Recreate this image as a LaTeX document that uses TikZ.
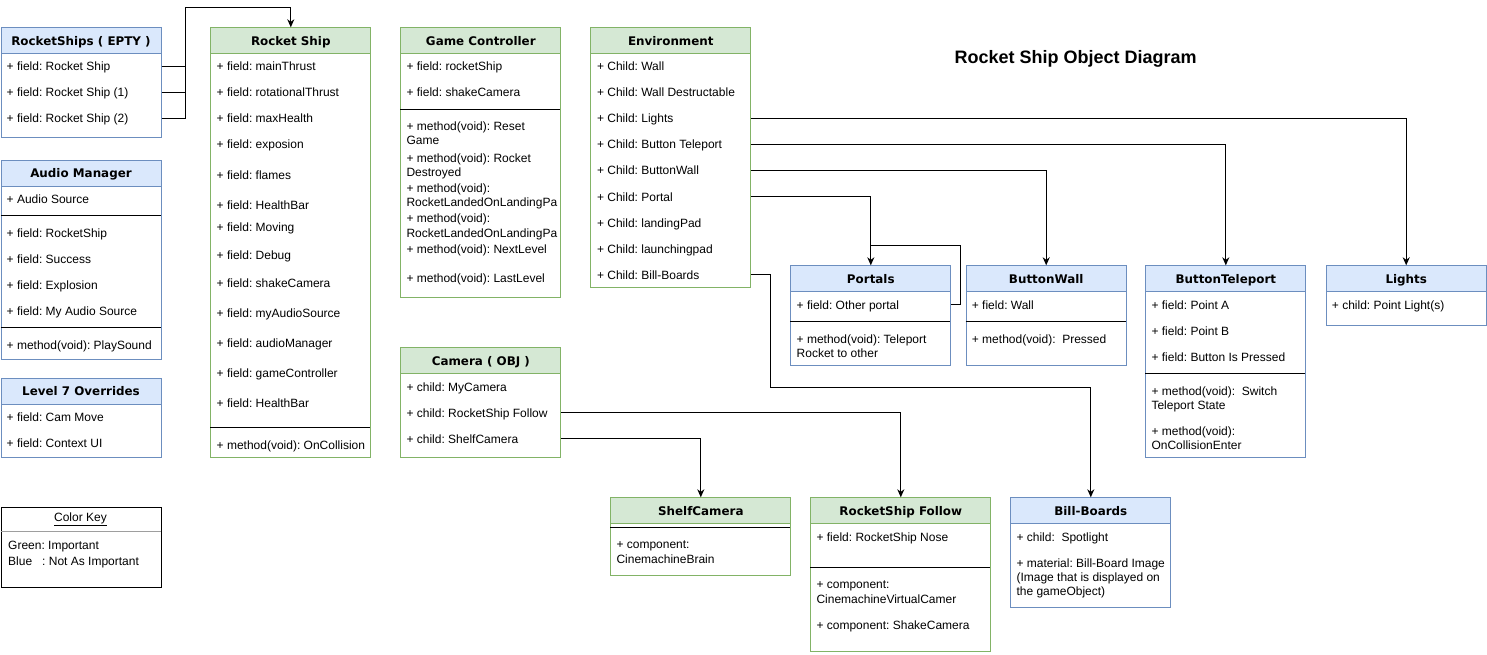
\documentclass[tikz,border=0pt]{standalone}
\usepackage{fontspec}
\setmainfont{Liberation Sans}
\newfontfamily\hfont{DejaVu Sans}
\usetikzlibrary{arrows.meta}
\frenchspacing
\definecolor{gfill}{HTML}{D5E8D4}
\definecolor{gline}{HTML}{82B366}
\definecolor{bfill}{HTML}{DAE8FC}
\definecolor{bline}{HTML}{6C8EBF}
\definecolor{keygray}{HTML}{9E9E9E}
\tikzset{
  gbody/.style={draw=gline, fill=white, anchor=north west, inner sep=0pt, line width=1pt},
  bbody/.style={draw=bline, fill=white, anchor=north west, inner sep=0pt, line width=1pt},
  kbody/.style={draw=black, fill=white, anchor=north west, inner sep=0pt, line width=1pt},
  headtext/.style={anchor=north west, inner sep=0pt, minimum height=26pt, line width=1pt,
    font=\hfont\bfseries\fontsize{11.9}{14}\selectfont, text height=8.7pt, text depth=0pt},
  ghead/.style={headtext, draw=gline, fill=gfill},
  bhead/.style={headtext, draw=bline, fill=bfill},
  row/.style={anchor=west, inner sep=0pt, font=\fontsize{12}{14}\selectfont\frenchspacing, text height=8.6pt, text depth=0pt},
  sepline/.style={draw=black, line width=1pt},
  conn/.style={draw=black, line width=1pt},
  arr/.style={conn, -{Stealth[length=8pt,width=7pt,inset=2.5pt]}},
}
\begin{document}
\begin{tikzpicture}[x=1pt,y=-1pt]
\useasboundingbox (0,0) rectangle (1487,655);
\fill[white] (0,0) rectangle (1487,655);

% ---------- RocketShips ( EPTY )
\node[bbody, minimum width=160pt, minimum height=110pt] (rse) at (0.5,27.3) {};
\node[bhead, minimum width=160pt] (rseh) at (0.5,27.3) {RocketShips ( EPTY )};
\node[row] (rse1) at (6.5,66.7) {+ field: Rocket Ship};
\node[row] (rse2) at (6.5,92.3) {+ field: Rocket Ship (1)};
\node[row] (rse3) at (6.5,118.3) {+ field: Rocket Ship (2)};

% ---------- Audio Manager
\node[bbody, minimum width=160pt, minimum height=199.6pt] (am) at (0.5,159.7) {};
\node[bhead, minimum width=160pt] (amh) at (0.5,159.7) {Audio Manager};
\node[row] (am1) at (6.5,198.7) {+ Audio Source};
\draw[sepline] (0.5,215.3) -- (160.5,215.3);
\node[row] (am2) at (6.5,232.7) {+ field: RocketShip};
\node[row] (am3) at (6.5,258.7) {+ field: Success};
\node[row] (am4) at (6.5,284.7) {+ field: Explosion};
\node[row] (am5) at (6.5,310.7) {+ field: My Audio Source};
\draw[sepline] (0.5,327.3) -- (160.5,327.3);
\node[row] (am6) at (6.5,344.7) {+ method(void): PlaySound};

% ---------- Level 7 Overrides
\node[bbody, minimum width=160pt, minimum height=79.6pt] (l7) at (0.5,377.7) {};
\node[bhead, minimum width=160pt] (l7h) at (0.5,377.7) {Level 7 Overrides};
\node[row] (l71) at (6.5,416.7) {+ field: Cam Move};
\node[row] (l72) at (6.5,442.7) {+ field: Context UI};

% ---------- Color Key
\node[kbody, minimum width=160pt, minimum height=80pt] (ck) at (0.5,507.3) {};
\node[row, anchor=center] (ckh) at (80.5,517.3) {\underline{Color Key}};
\draw[draw=keygray, line width=1pt] (0.5,531.7) -- (160.5,531.7);
\node[row] (ck1) at (8,545.3) {Green: Important};
\node[row] (ck2) at (8,560.7) {Blue\ \ \ : Not As Important};

% ---------- Rocket Ship
\node[gbody, minimum width=160pt, minimum height=430pt] (rs) at (210.3,27.3) {};
\node[ghead, minimum width=160pt] (rsh) at (210.3,27.3) {Rocket Ship};
\node[row] (rs1) at (216.5,66.7) {+ field: mainThrust};
\node[row] (rs2) at (216.5,92.7) {+ field: rotationalThrust};
\node[row] (rs3) at (216.5,118.3) {+ field: maxHealth};
\node[row] (rs4) at (216.5,144.7) {+ field: exposion};
\node[row] (rs5) at (216.5,174.7) {+ field: flames};
\node[row] (rs6) at (216.5,204.7) {+ field: HealthBar};
\node[row] (rs7) at (216.5,226.7) {+ field: Moving};
\node[row] (rs8) at (216.5,254.7) {+ field: Debug};
\node[row] (rs9) at (216.5,282.7) {+ field: shakeCamera};
\node[row] (rs10) at (216.5,312.7) {+ field: myAudioSource};
\node[row] (rs11) at (216.5,342.7) {+ field: audioManager};
\node[row] (rs12) at (216.5,372.7) {+ field: gameController};
\node[row] (rs13) at (216.5,402.7) {+ field: HealthBar};
\draw[sepline] (210.3,427.3) -- (370.3,427.3);
\node[row] (rs14) at (216.5,444.7) {+ method(void): OnCollision};

% ---------- Game Controller
\node[gbody, minimum width=160pt, minimum height=270pt] (gc) at (400.3,27.3) {};
\node[ghead, minimum width=160pt] (gch) at (400.3,27.3) {Game Controller};
\node[row] (gc1) at (406.3,66.7) {+ field: rocketShip};
\node[row] (gc2) at (406.3,92.7) {+ field: shakeCamera};
\draw[sepline] (400.3,109.3) -- (560.3,109.3);
\node[row] (gc3) at (406.3,126.7) {+ method(void): Reset};
\node[row] (gc3b) at (406.3,140.3) {Game};
\node[row] (gc4) at (406.3,158.7) {+ method(void): Rocket};
\node[row] (gc4b) at (406.3,172.7) {Destroyed};
\node[row] (gc5) at (406.3,188.7) {+ method(void):};
\node[row] (gc5b) at (406.3,202.7) {RocketLandedOnLandingPa};
\node[row] (gc6) at (406.3,218.3) {+ method(void):};
\node[row] (gc6b) at (406.3,232.7) {RocketLandedOnLandingPa};
\node[row] (gc7) at (406.3,249.3) {+ method(void): NextLevel};
\node[row] (gc8) at (406.3,278) {+ method(void): LastLevel};

% ---------- Environment
\node[gbody, minimum width=160pt, minimum height=260pt] (env) at (590.3,27.3) {};
\node[ghead, minimum width=160pt] (envh) at (590.3,27.3) {Environment};
\node[row] (env1) at (596.8,66.7) {+ Child: Wall};
\node[row] (env2) at (596.8,92.7) {+ Child: Wall Destructable};
\node[row] (env3) at (596.8,118.7) {+ Child: Lights};
\node[row] (env4) at (596.8,144.7) {+ Child: Button Teleport};
\node[row] (env5) at (596.8,170.7) {+ Child: ButtonWall};
\node[row] (env6) at (596.8,196.7) {+ Child: Portal};
\node[row] (env7) at (596.8,222.7) {+ Child: landingPad};
\node[row] (env8) at (596.8,248.7) {+ Child: launchingpad};
\node[row] (env9) at (596.8,274.7) {+ Child: Bill-Boards};

% ---------- Camera ( OBJ )
\node[gbody, minimum width=160pt, minimum height=110pt] (cam) at (400.3,347.3) {};
\node[ghead, minimum width=160pt] (camh) at (400.3,347.3) {Camera ( OBJ )};
\node[row] (cam1) at (406.3,386.7) {+ child: MyCamera};
\node[row] (cam2) at (406.3,412.7) {+ child: RocketShip Follow};
\node[row] (cam3) at (406.3,438.7) {+ child: ShelfCamera};

% ---------- Portals
\node[bbody, minimum width=160pt, minimum height=99.7pt] (po) at (790.3,265.3) {};
\node[bhead, minimum width=160pt] (poh) at (790.3,265.3) {Portals};
\node[row] (po1) at (796.5,304.7) {+ field: Other portal};
\draw[sepline] (790.3,321.3) -- (950.3,321.3);
\node[row] (po2) at (796.5,338.7) {+ method(void): Teleport};
\node[row] (po2b) at (796.5,352.7) {Rocket to other};

% ---------- ButtonWall
\node[bbody, minimum width=160pt, minimum height=99.7pt] (bw) at (965.7,265.3) {};
\node[bhead, minimum width=160pt] (bwh) at (965.7,265.3) {ButtonWall};
\node[row] (bw1) at (971.7,304.7) {+ field: Wall};
\draw[sepline] (965.7,321.3) -- (1125.7,321.3);
\node[row] (bw2) at (971.7,338.7) {+ method(void):\ \ Pressed};

% ---------- ButtonTeleport
\node[bbody, minimum width=160pt, minimum height=192pt] (bt) at (1145.3,265.3) {};
\node[bhead, minimum width=160pt] (bth) at (1145.3,265.3) {ButtonTeleport};
\node[row] (bt1) at (1151.3,304.7) {+ field: Point A};
\node[row] (bt2) at (1151.3,330.7) {+ field: Point B};
\node[row] (bt3) at (1151.3,356.7) {+ field: Button Is Pressed};
\draw[sepline] (1145.3,373.3) -- (1305.3,373.3);
\node[row] (bt4) at (1151.3,390.7) {+ method(void):\ \ Switch};
\node[row] (bt4b) at (1151.3,404.7) {Teleport State};
\node[row] (bt5) at (1151.3,430.7) {+ method(void):};
\node[row] (bt5b) at (1151.3,444.7) {OnCollisionEnter};

% ---------- Lights
\node[bbody, minimum width=160pt, minimum height=60pt] (li) at (1325.7,265.3) {};
\node[bhead, minimum width=160pt] (lih) at (1325.7,265.3) {Lights};
\node[row] (li1) at (1331.7,304.7) {+ child: Point Light(s)};

% ---------- ShelfCamera
\node[gbody, minimum width=180pt, minimum height=78pt] (sc) at (610.3,497.3) {};
\node[ghead, minimum width=180pt] (sch) at (610.3,497.3) {ShelfCamera};
\draw[sepline] (610.3,527.3) -- (790.3,527.3);
\node[row] (sc1) at (616.3,544) {+ component:};
\node[row] (sc1b) at (616.3,558.7) {CinemachineBrain};

% ---------- RocketShip Follow
\node[gbody, minimum width=180pt, minimum height=153.4pt] (rsf) at (810.3,497.3) {};
\node[ghead, minimum width=180pt] (rsfh) at (810.3,497.3) {RocketShip Follow};
\node[row] (rsf1) at (816.3,536.7) {+ field: RocketShip Nose};
\draw[sepline] (810.3,567.3) -- (990.3,567.3);
\node[row] (rsf2) at (816.3,584) {+ component:};
\node[row] (rsf2b) at (816.3,598.7) {CinemachineVirtualCamer};
\node[row] (rsf3) at (816.3,624.7) {+ component: ShakeCamera};

% ---------- Bill-Boards
\node[bbody, minimum width=160pt, minimum height=110pt] (bb) at (1010.3,497.3) {};
\node[bhead, minimum width=160pt] (bbh) at (1010.3,497.3) {Bill-Boards};
\node[row] (bb1) at (1016.3,536.7) {+ child:\ \ Spotlight};
\node[row] (bb2) at (1016.3,562.7) {+ material: Bill-Board Image};
\node[row] (bb2b) at (1016.3,576.7) {(Image that is displayed on};
\node[row] (bb2c) at (1016.3,591.3) {the gameObject)};

% ---------- Title
\node[inner sep=0pt, font=\bfseries\fontsize{18}{20}\selectfont, text height=12.9pt, text depth=0pt] (title) at (1075.7,57.3) {Rocket Ship Object Diagram};

% ---------- Connectors
\coordinate (rsj) at (185,7.3);
\draw[conn] (rse1.west -| rse.east) -- (rse1.west -| rsj);
\draw[conn] (rse2.west -| rse.east) -- (rse2.west -| rsj);
\draw[arr] (rse3.west -| rse.east) -| (rsj) -| (rs.north);

\draw[arr] (env3.west -| env.east) -| (li.north);
\draw[arr] (env4.west -| env.east) -| (bt.north);
\draw[arr] (env5.west -| env.east) -| (bw.north);
\draw[arr] (env6.west -| env.east) -| (po.north);
\coordinate (poj) at (960.3,245.3);
\draw[conn] (po1.west -| po.east) -| (poj) -- (poj -| po.north);
\coordinate (bbj) at (770.7,387.3);
\draw[arr] (env9.west -| env.east) -| (bbj) -| (bb.north);

\draw[arr] (cam2.west -| cam.east) -| (rsf.north);
\draw[arr] (cam3.west -| cam.east) -| (sc.north);
\end{tikzpicture}
\end{document}
